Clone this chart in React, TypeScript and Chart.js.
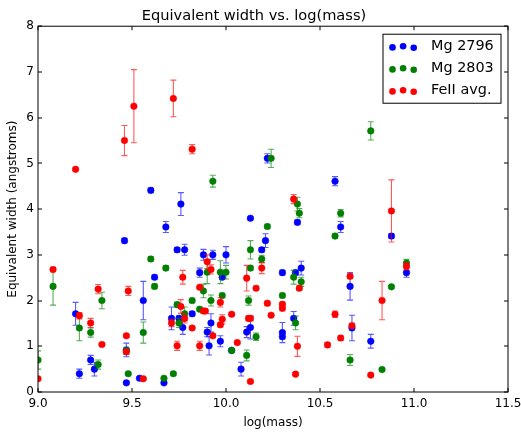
import React, { useEffect, useRef } from 'react';
import { Chart, registerables } from 'chart.js';

Chart.register(...registerables);

// ---- Data ----
const titleText = 'Equivalent width vs. log(mass)';
const xLabel = 'log(mass)';
const yLabel = 'Equivalent width (angstroms)';
const seriesNames = ['Mg 2796', 'Mg 2803', 'FeII avg.'];

const mg2796X = [9.20, 9.22, 9.28, 9.30, 9.46, 9.47, 9.47, 9.54, 9.56, 9.60, 9.62, 9.67, 9.68, 9.71, 9.74, 9.75, 9.76, 9.77, 9.78, 9.82, 9.86, 9.88, 9.90, 9.91, 9.92, 9.93, 9.97, 9.98, 10.00, 10.03, 10.08, 10.11, 10.13, 10.13, 10.19, 10.21, 10.22, 10.30, 10.30, 10.30, 10.36, 10.37, 10.38, 10.40, 10.58, 10.61, 10.66, 10.67, 10.77, 10.88, 10.96];
const mg2796Y = [1.71, 0.40, 0.70, 0.50, 3.31, 0.20, 0.92, 0.30, 2.00, 4.41, 2.51, 0.20, 3.61, 1.61, 3.11, 1.61, 4.11, 1.41, 3.11, 1.71, 2.61, 3.00, 1.31, 1.01, 1.51, 3.00, 1.11, 2.51, 3.00, 0.91, 0.50, 1.31, 1.41, 3.80, 3.11, 3.31, 5.11, 2.61, 1.30, 1.21, 1.61, 2.61, 3.71, 2.71, 4.61, 3.61, 2.31, 1.40, 1.11, 3.41, 2.61];
const mg2796Err = [0.25, 0.10, 0.10, 0.15, 0.05, 0.03, 0.15, 0.03, 0.42, 0.05, 0.05, 0.03, 0.12, 0.25, 0.05, 0.05, 0.25, 0.15, 0.12, 0.05, 0.10, 0.12, 0.10, 0.20, 0.20, 0.10, 0.12, 0.05, 0.18, 0.03, 0.15, 0.12, 0.25, 0.03, 0.05, 0.15, 0.10, 0.05, 0.22, 0.05, 0.15, 0.05, 0.05, 0.15, 0.10, 0.12, 0.30, 0.28, 0.15, 0.05, 0.10];

const mg2803X = [9.00, 9.08, 9.22, 9.28, 9.32, 9.34, 9.47, 9.48, 9.56, 9.60, 9.62, 9.67, 9.68, 9.72, 9.74, 9.75, 9.78, 9.82, 9.86, 9.88, 9.90, 9.92, 9.93, 9.97, 9.98, 10.00, 10.03, 10.11, 10.12, 10.13, 10.13, 10.16, 10.19, 10.22, 10.24, 10.30, 10.36, 10.37, 10.38, 10.39, 10.40, 10.58, 10.61, 10.66, 10.77, 10.83, 10.88, 10.96];
const mg2803Y = [0.70, 2.31, 1.40, 1.30, 0.60, 2.00, 0.90, 0.40, 1.30, 2.91, 2.31, 0.30, 2.71, 0.40, 1.91, 1.51, 1.71, 2.00, 1.81, 2.21, 2.62, 2.00, 4.61, 2.62, 2.11, 2.62, 0.91, 0.80, 2.00, 2.71, 3.11, 1.21, 2.91, 3.62, 5.11, 2.11, 2.51, 1.51, 4.11, 3.91, 2.41, 3.41, 3.91, 0.70, 5.71, 0.49, 2.30, 2.82];
const mg2803Err = [0.20, 0.41, 0.28, 0.10, 0.10, 0.18, 0.08, 0.03, 0.23, 0.05, 0.05, 0.03, 0.05, 0.03, 0.05, 0.10, 0.15, 0.05, 0.05, 0.15, 0.25, 0.12, 0.13, 0.25, 0.05, 0.15, 0.03, 0.12, 0.10, 0.05, 0.20, 0.08, 0.08, 0.05, 0.20, 0.05, 0.15, 0.15, 0.15, 0.10, 0.10, 0.05, 0.08, 0.12, 0.20, 0.03, 0.03, 0.08];

const feIIX = [9.00, 9.08, 9.20, 9.22, 9.28, 9.32, 9.34, 9.46, 9.47, 9.47, 9.48, 9.51, 9.56, 9.71, 9.72, 9.74, 9.76, 9.77, 9.78, 9.82, 9.82, 9.86, 9.86, 9.88, 9.89, 9.90, 9.92, 9.93, 9.97, 9.97, 9.98, 10.03, 10.06, 10.11, 10.12, 10.13, 10.13, 10.16, 10.19, 10.22, 10.24, 10.30, 10.30, 10.36, 10.37, 10.38, 10.39, 10.54, 10.58, 10.61, 10.66, 10.67, 10.77, 10.83, 10.88, 10.96];
const feIIY = [0.29, 2.68, 4.87, 1.67, 1.51, 2.25, 1.04, 5.50, 1.23, 0.88, 2.21, 6.25, 0.29, 1.51, 6.42, 1.01, 1.87, 2.51, 1.61, 5.31, 1.40, 2.29, 1.01, 1.77, 1.77, 2.85, 2.68, 1.23, 1.96, 1.47, 1.59, 1.70, 1.08, 2.49, 1.61, 1.61, 0.23, 2.27, 2.71, 1.94, 1.68, 1.92, 1.83, 4.22, 0.39, 1.00, 2.27, 1.03, 1.70, 1.18, 2.53, 1.45, 0.37, 2.00, 3.96, 2.75];
const feIIErr = [0.03, 0.05, 0.03, 0.07, 0.10, 0.10, 0.03, 0.33, 0.03, 0.05, 0.10, 0.80, 0.03, 0.08, 0.40, 0.10, 0.15, 0.15, 0.10, 0.10, 0.03, 0.03, 0.10, 0.05, 0.05, 0.15, 0.10, 0.03, 0.10, 0.05, 0.10, 0.03, 0.03, 0.28, 0.05, 0.05, 0.03, 0.03, 0.12, 0.05, 0.03, 0.05, 0.05, 0.10, 0.03, 0.22, 0.05, 0.05, 0.07, 0.05, 0.05, 0.05, 0.03, 0.42, 0.68, 0.08];

const xTicks = [9.0, 9.5, 10.0, 10.5, 11.0, 11.5];
const yTicks = [0, 1, 2, 3, 4, 5, 6, 7, 8];

const colors = ['#0000ff', '#008000', '#ff0000'];
const errColors = ['rgba(0,0,255,0.65)', 'rgba(0,128,0,0.65)', 'rgba(255,0,0,0.65)'];
const FONT = "'DejaVu Sans', 'Liberation Sans', sans-serif";

const toPoints = (xs: number[], ys: number[]) => xs.map((x, i) => ({ x, y: ys[i] }));

const errorBarPlugin = {
  id: 'errorBars',
  beforeDatasetDraw(chart: any, args: any) {
    const ds = chart.data.datasets[args.index];
    const errs: number[] = ds.errors;
    if (!errs) return;
    const { ctx, chartArea } = chart;
    const xs = chart.scales.x;
    const ys = chart.scales.y;
    ctx.save();
    ctx.beginPath();
    ctx.rect(chartArea.left, chartArea.top, chartArea.right - chartArea.left, chartArea.bottom - chartArea.top);
    ctx.clip();
    ctx.strokeStyle = ds.errorColor;
    ctx.lineWidth = 1.1;
    ds.data.forEach((p: any, i: number) => {
      const px = xs.getPixelForValue(p.x);
      const top = ys.getPixelForValue(p.y + errs[i]);
      const bot = ys.getPixelForValue(p.y - errs[i]);
      ctx.beginPath();
      ctx.moveTo(px, top);
      ctx.lineTo(px, bot);
      ctx.moveTo(px - 3, top);
      ctx.lineTo(px + 3, top);
      ctx.moveTo(px - 3, bot);
      ctx.lineTo(px + 3, bot);
      ctx.stroke();
    });
    ctx.restore();
  },
};

const framePlugin = {
  id: 'frameTicksLegend',
  afterDraw(chart: any) {
    const { ctx, chartArea } = chart;
    const { left, right, top, bottom } = chartArea;
    const xs = chart.scales.x;
    const ys = chart.scales.y;
    ctx.save();
    ctx.strokeStyle = '#000';
    ctx.lineWidth = 1;
    ctx.strokeRect(left, top, right - left, bottom - top);
    const tl = 4;
    ctx.beginPath();
    xTicks.forEach((v) => {
      const px = Math.round(xs.getPixelForValue(v));
      ctx.moveTo(px, bottom);
      ctx.lineTo(px, bottom - tl);
      ctx.moveTo(px, top);
      ctx.lineTo(px, top + tl);
    });
    yTicks.forEach((v) => {
      const py = Math.round(ys.getPixelForValue(v));
      ctx.moveTo(left, py);
      ctx.lineTo(left + tl, py);
      ctx.moveTo(right, py);
      ctx.lineTo(right - tl, py);
    });
    ctx.stroke();

    // Legend box (upper right)
    const bx = right - 125;
    const by = top + 8;
    const bw = 118;
    const bh = 69;
    ctx.fillStyle = '#fff';
    ctx.fillRect(bx, by, bw, bh);
    ctx.strokeRect(bx, by, bw, bh);
    const dotOffsets = [1.2, 0, 1.6];
    seriesNames.forEach((name, i) => {
      const cy = by + 12 + i * 22;
      ctx.fillStyle = colors[i];
      [0, 1, 2].forEach((k) => {
        ctx.beginPath();
        ctx.arc(bx + 9.5 + k * 10.6, cy + dotOffsets[k], 3.3, 0, Math.PI * 2);
        ctx.fill();
      });
      ctx.fillStyle = '#000';
      ctx.font = `14.4px ${FONT}`;
      ctx.textBaseline = 'middle';
      ctx.textAlign = 'left';
      ctx.fillText(name, bx + 48, cy);
    });
    ctx.restore();
  },
};

export default function App() {
  const canvasRef = useRef<HTMLCanvasElement | null>(null);

  useEffect(() => {
    document.body.style.margin = '0';
    const canvas = canvasRef.current;
    if (!canvas) return;
    const mk = (i: number, xs: number[], ys: number[], errs: number[], order: number) => ({
      label: seriesNames[i],
      data: toPoints(xs, ys),
      errors: errs,
      errorColor: errColors[i],
      backgroundColor: colors[i],
      borderColor: colors[i],
      borderWidth: 0.5,
      pointRadius: 3.3,
      pointHoverRadius: 3.3,
      showLine: false,
      clip: 0,
      order,
    });
    const chart = new Chart(canvas, {
      type: 'scatter',
      data: {
        datasets: [
          mk(0, mg2796X, mg2796Y, mg2796Err, 3),
          mk(1, mg2803X, mg2803Y, mg2803Err, 2),
          mk(2, feIIX, feIIY, feIIErr, 1),
        ] as any,
      },
      options: {
        animation: false,
        responsive: false,
        devicePixelRatio: 1,
        layout: { padding: { left: 0, right: 13, top: 0, bottom: 0 } },
        plugins: {
          legend: { display: false },
          tooltip: { enabled: false },
          title: {
            display: true,
            text: titleText,
            color: '#000',
            font: { family: FONT, size: 14.6, weight: 'normal' },
            padding: { top: 7, bottom: 1.7 },
          },
        },
        scales: {
          x: {
            type: 'linear',
            min: 9,
            max: 11.5,
            grid: { display: false, drawTicks: false },
            border: { display: false },
            afterFit: (s: any) => { s.height = 40; s.paddingLeft = 0; s.paddingRight = 0; },
            afterBuildTicks: (s: any) => { s.ticks = xTicks.map((v) => ({ value: v })); },
            ticks: {
              color: '#000',
              padding: 5,
              font: { family: FONT, size: 12 },
              callback: (v: any) => Number(v).toFixed(1),
            },
            title: {
              display: true,
              text: xLabel,
              color: '#000',
              font: { family: FONT, size: 12 },
              padding: { top: 0, bottom: 2 },
            },
          },
          y: {
            type: 'linear',
            min: 0,
            max: 8,
            grid: { display: false, drawTicks: false },
            border: { display: false },
            afterFit: (s: any) => { s.width = 38; s.paddingTop = 0; s.paddingBottom = 0; },
            afterBuildTicks: (s: any) => { s.ticks = yTicks.map((v) => ({ value: v })); },
            ticks: {
              color: '#000',
              padding: 4,
              font: { family: FONT, size: 12 },
              callback: (v: any) => String(v),
            },
            title: {
              display: true,
              text: yLabel,
              color: '#000',
              font: { family: FONT, size: 12 },
              padding: { top: 6, bottom: 0 },
            },
          },
        },
      } as any,
      plugins: [errorBarPlugin, framePlugin],
    });
    return () => chart.destroy();
  }, []);

  return <canvas ref={canvasRef} width={521} height={432} style={{ display: 'block' }} />;
}
